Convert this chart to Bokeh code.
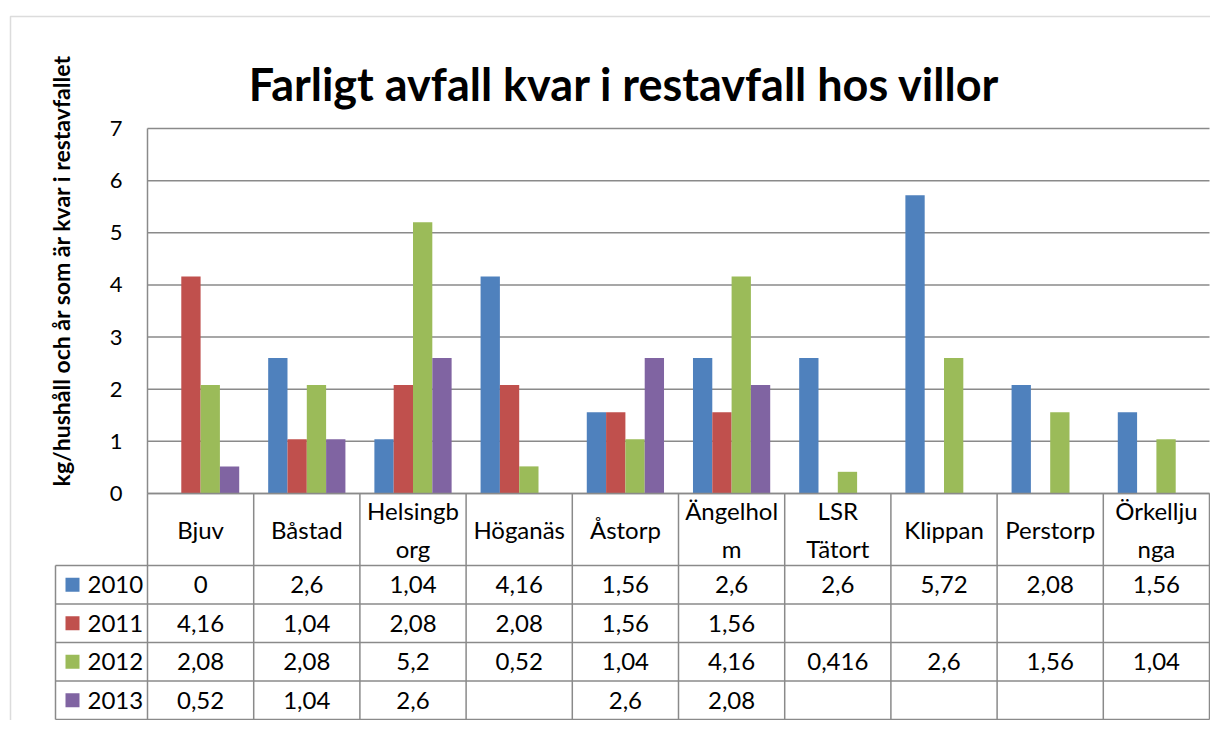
import math
from bokeh.plotting import figure
from bokeh.models import Range1d, BoxAnnotation
from bokeh.core.properties import value
from bokeh.embed import file_html
from bokeh.resources import INLINE

# ---------------- data ----------------
categories = ["Bjuv", "Båstad", "Helsingborg", "Höganäs", "Åstorp",
              "Ängelholm", "LSR Tätort", "Klippan", "Perstorp", "Örkelljunga"]
header_labels = ["Bjuv", "Båstad", "Helsingb\norg", "Höganäs", "Åstorp",
                 "Ängelhol\nm", "LSR\nTätort", "Klippan", "Perstorp", "Örkellju\nnga"]
years = ["2010", "2011", "2012", "2013"]
nan = float("nan")
v2010 = [0, 2.6, 1.04, 4.16, 1.56, 2.6, 2.6, 5.72, 2.08, 1.56]
v2011 = [4.16, 1.04, 2.08, 2.08, 1.56, 1.56, nan, nan, nan, nan]
v2012 = [2.08, 2.08, 5.2, 0.52, 1.04, 4.16, 0.416, 2.6, 1.56, 1.04]
v2013 = [0.52, 1.04, 2.6, nan, 2.6, 2.08, nan, nan, nan, nan]
series = [v2010, v2011, v2012, v2013]
y_ticks = [0, 1, 2, 3, 4, 5, 6, 7]
title_text = "Farligt avfall kvar i restavfall hos villor"
ylabel_text = "kg/hushåll och år som är kvar i restavfallet"

colors = ["#4F81BD", "#C0504D", "#9BBB59", "#8064A2"]
FONT = "Lato"
LINE = "#8a8a8a"

# ---------------- layout (figure pixels) ----------------
W, H = 1210, 720
PL, PR = 147, 1209          # plot area left / right
PY0, PYT = 493, 128         # pixel rows of value 0 and value 7
ncat = len(categories)
YMAX = y_ticks[-1]
sx = ncat / (PR - PL)
sy = YMAX / (PY0 - PYT)


def fx(px):
    return (px - PL) * sx


def fy(py):
    return (PY0 - py) * sy


HEADER_H = 72 * sy
ROW_H = 38.5 * sy
LEG_W = 92 * sx

p = figure(width=W, height=H, x_range=Range1d(fx(0), fx(W)), y_range=Range1d(fy(H), fy(0)),
           toolbar_location=None, output_backend="svg", min_border=0,
           x_axis_location=None, y_axis_location=None)
p.outline_line_color = None
p.background_fill_color = "white"
p.border_fill_color = "white"
for g in p.grid:
    g.visible = False

# outer chart border
p.add_layout(BoxAnnotation(left=fx(10), right=fx(W + 40), top=fy(16), bottom=fy(H + 40),
                           fill_alpha=0, line_color=LINE, line_width=1.5))

# horizontal gridlines
p.segment(x0=[0] * len(y_ticks), x1=[ncat] * len(y_ticks), y0=y_ticks, y1=y_ticks,
          line_color=LINE, line_width=1.5)
# y axis line
p.segment(x0=[0], x1=[0], y0=[0], y1=[YMAX], line_color=LINE, line_width=1.5)

# bars
gap = 1.5
bw = 1.0 / (len(series) + gap)
for j, (vals, col) in enumerate(zip(series, colors)):
    xs, tops = [], []
    for i, v in enumerate(vals):
        if not math.isnan(v):
            xs.append(i + 0.5 + (j - (len(series) - 1) / 2) * bw)
            tops.append(v)
    p.vbar(x=xs, top=tops, bottom=0, width=bw, fill_color=col, line_color=None)

# y tick labels
p.text(x=[fx(122)] * len(y_ticks), y=y_ticks, text=[str(t) for t in y_ticks],
       text_font=value(FONT), text_font_size="22px", text_align="right",
       text_baseline="middle", text_color="black")

# title
p.text(x=[fx(624)], y=[fy(83)], text=[title_text], text_font=value(FONT),
       text_font_size="45px", text_font_style="bold", text_align="center",
       text_baseline="alphabetic", text_color="black")

# y axis label
p.text(x=[fx(60)], y=[fy(270)], text=[ylabel_text], text_font=value(FONT),
       text_font_size="23px", text_font_style="bold", text_align="center",
       text_baseline="middle", angle=math.pi / 2, text_color="black")

# ---------------- data table ----------------
y_head_bot = -HEADER_H
row_edges = [y_head_bot - k * ROW_H for k in range(len(years) + 1)]
y_tab_bot = row_edges[-1]
# horizontal table lines
hx0 = [0] + [-LEG_W] * (len(years) + 1)
hy = [0] + row_edges
p.segment(x0=hx0, x1=[ncat] * len(hx0), y0=hy, y1=hy, line_color=LINE, line_width=1.5)
# vertical table lines
vx = [-LEG_W] + list(range(ncat + 1))
vtop = [y_head_bot] + [0] * (ncat + 1)
p.segment(x0=vx, x1=vx, y0=vtop, y1=[y_tab_bot] * len(vx), line_color=LINE, line_width=1.5)

# header labels
p.text(x=[i + 0.5 for i in range(ncat)], y=[-HEADER_H / 2] * ncat, text=header_labels,
       text_font=value(FONT), text_font_size="24px", text_align="center",
       text_baseline="middle", text_line_height=1.29, text_color="black")

# legend cells
row_centers = [y_head_bot - (k + 0.5) * ROW_H for k in range(len(years))]
p.scatter(x=[fx(72)] * len(years), y=row_centers, marker="square", size=14,
          fill_color=colors, line_color=None)
p.text(x=[fx(87)] * len(years), y=row_centers, text=years, text_font=value(FONT),
       text_font_size="24px", text_align="left", text_baseline="middle", text_color="black")


def fmt(v):
    if math.isnan(v):
        return ""
    return f"{v:g}".replace(".", ",")


cx, cy, ct = [], [], []
for k, vals in enumerate(series):
    for i, v in enumerate(vals):
        s = fmt(v)
        if s:
            cx.append(i + 0.5)
            cy.append(row_centers[k])
            ct.append(s)
p.text(x=cx, y=cy, text=ct, text_font=value(FONT), text_font_size="24px",
       text_align="center", text_baseline="middle", text_color="black")

open("out.html", "w").write(file_html(p, INLINE))
